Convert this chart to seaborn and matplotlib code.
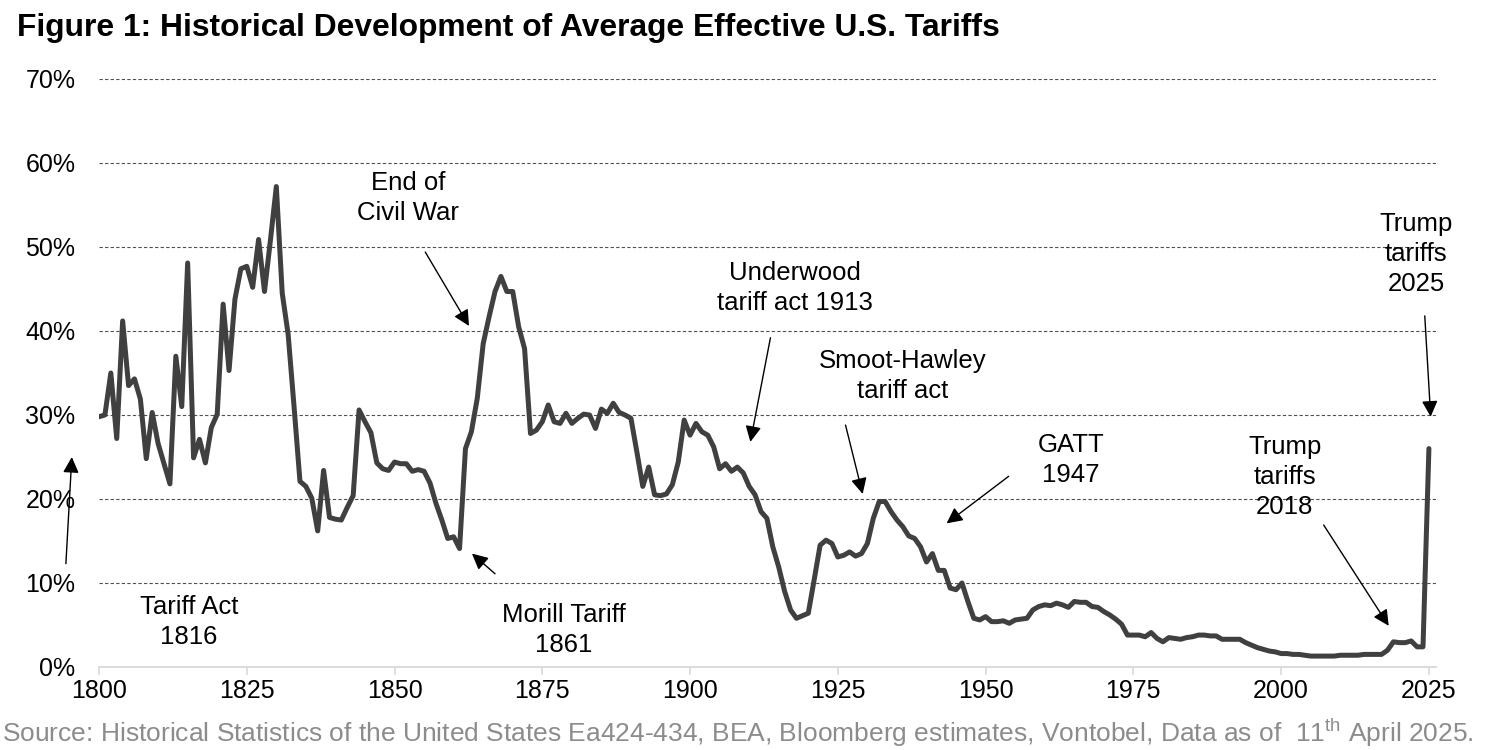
import numpy as np
import pandas as pd
import seaborn as sns
import matplotlib.pyplot as plt

# average effective US tariff rate (%), one value per year
tariff_1800s = [29.8, 30.0, 35.0, 27.2, 41.2, 33.5, 34.3, 31.9, 24.8, 30.3,
                26.6, 24.2, 21.8, 37.0, 31.0, 48.1, 24.9, 27.1, 24.3, 28.5,
                30.1, 43.2, 35.3, 43.8, 47.4, 47.7, 45.2, 50.9, 44.7, 50.8,
                57.2, 44.5, 39.6, 31.0, 22.1, 21.5, 20.1, 16.2, 23.4, 17.8,
                17.6, 17.5, 19.0, 20.4, 30.6, 29.2, 27.9, 24.3, 23.6, 23.4]
tariff_1850s = [24.4, 24.2, 24.2, 23.3, 23.5, 23.3, 21.9, 19.5, 17.5, 15.3,
                15.5, 14.1, 26.0, 28.0, 32.0, 38.5, 41.7, 44.7, 46.5, 44.7,
                44.7, 40.5, 37.9, 27.8, 28.2, 29.2, 31.2, 29.2, 29.0, 30.2,
                29.0, 29.6, 30.1, 30.0, 28.4, 30.7, 30.2, 31.4, 30.3, 30.0,
                29.6, 25.6, 21.5, 23.8, 20.5, 20.4, 20.6, 21.7, 24.4, 29.4]
tariff_1900s = [27.6, 29.0, 28.0, 27.6, 26.2, 23.6, 24.2, 23.3, 23.8, 23.1,
                21.5, 20.5, 18.5, 17.7, 14.3, 11.9, 9.0, 6.8, 5.8, 6.1,
                6.4, 10.4, 14.5, 15.1, 14.7, 13.1, 13.3, 13.7, 13.2, 13.5,
                14.7, 17.7, 19.7, 19.7, 18.5, 17.5, 16.7, 15.6, 15.3, 14.3,
                12.5, 13.5, 11.5, 11.5, 9.4, 9.2, 10.0, 7.8, 5.8, 5.6]
tariff_1950s = [6.0, 5.4, 5.4, 5.5, 5.2, 5.6, 5.7, 5.8, 6.8, 7.2,
                7.4, 7.3, 7.6, 7.4, 7.1, 7.8, 7.7, 7.7, 7.2, 7.1,
                6.6, 6.2, 5.7, 5.1, 3.8, 3.8, 3.8, 3.6, 4.1, 3.4,
                3.0, 3.5, 3.4, 3.3, 3.5, 3.6, 3.8, 3.8, 3.7, 3.7,
                3.3, 3.3, 3.3, 3.3, 2.9, 2.6, 2.3, 2.1, 1.9, 1.8]
tariff_2000s = [1.6, 1.6, 1.5, 1.5, 1.4, 1.3, 1.3, 1.3, 1.3, 1.3,
                1.4, 1.4, 1.4, 1.4, 1.5, 1.5, 1.5, 1.5, 2.0, 3.0,
                2.9, 2.9, 3.1, 2.4, 2.4, 26.0]
first_year = 1800

x_ticks = [1800, 1825, 1850, 1875, 1900, 1925, 1950, 1975, 2000, 2025]
y_ticks = [0, 10, 20, 30, 40, 50, 60, 70]

# event labels: text, text position (year, %), arrow tail, arrow head
events = [
    ("End of\nCivil War", (1852.3, 55.8), (1855.2, 49.4), (1862.6, 40.6)),
    ("Underwood\ntariff act 1913", (1917.8, 45.1), (1913.6, 39.2), (1910.2, 26.8)),
    ("Smoot-Hawley\ntariff act", (1935.9, 34.6), (1926.3, 28.8), (1929.2, 20.6)),
    ("GATT\n1947", (1964.4, 24.6), (1953.9, 22.7), (1943.4, 17.1)),
    ("Trump\ntariffs\n2018", (2000.6, 22.6), (2007.2, 16.9), (2018.2, 4.9)),
    ("Trump\ntariffs\n2025", (2022.8, 49.2), (2024.3, 41.8), (2025.3, 29.8)),
    ("Tariff Act\n1816", (1815.2, 5.4), (1794.4, 12.3), (1795.4, 25.0)),
    ("Morill Tariff\n1861", (1878.6, 4.4), (1867.0, 11.1), (1863.1, 13.5)),
]

values = tariff_1800s + tariff_1850s + tariff_1900s + tariff_1950s + tariff_2000s
df = pd.DataFrame({"year": np.arange(first_year, first_year + len(values)),
                   "tariff": values})

sns.set_theme(style="white")
plt.rcParams['font.family'] = ['Liberation Sans', 'DejaVu Sans']
plt.rcParams['mathtext.fontset'] = 'custom'
plt.rcParams['mathtext.rm'] = 'Liberation Sans'

fig = plt.figure(figsize=(15, 7.5), dpi=100)
ax = fig.add_axes([99/1500, 83/750, 1337/1500, 588/750])

for y in y_ticks[1:]:
    ax.axhline(y, color='#505050', lw=0.8, ls=(0, (3, 2)), zorder=1)

sns.lineplot(data=df, x="year", y="tariff", ax=ax, color='#404040', lw=3.6,
             zorder=3)

ax.set_xlim(1800, 2026.2)
ax.set_ylim(0, 70)
ax.set_xticks(x_ticks)
ax.set_yticks(y_ticks)
ax.set_yticklabels([f"{t}%" for t in y_ticks])
ax.set_xlabel("")
ax.set_ylabel("")
for s in ['top', 'right', 'left']:
    ax.spines[s].set_visible(False)
ax.spines['bottom'].set_color('#d9d9d9')
ax.spines['bottom'].set_linewidth(1.3)
ax.tick_params(axis='x', direction='out', length=6, width=1.2, color='#d9d9d9',
               labelsize=18, labelcolor='black', pad=3, bottom=True)
ax.tick_params(axis='y', length=0, labelsize=18, labelcolor='black', pad=17)

for label, txt, tail, head in events:
    ax.text(txt[0], txt[1], label, ha='center', va='center', fontsize=18.5,
            color='black', linespacing=1.32, clip_on=False)
    ax.annotate('', xy=head, xytext=tail, annotation_clip=False,
                arrowprops=dict(arrowstyle='-|>', color='black', lw=1,
                                mutation_scale=24, shrinkA=0, shrinkB=0))

fig.text(17/1500, 1 - 28/750,
         "Figure 1: Historical Development of Average Effective U.S. Tariffs",
         fontsize=22.9, fontweight='bold', color='black', ha='left', va='center')
fig.text(2/1500, 1 - 733/750,
         "Source: Historical Statistics of the United States Ea424-434, BEA, "
         "Bloomberg estimates, Vontobel, Data as of  11$^{\\mathrm{th}}$ April 2025.",
         fontsize=19, color='#8c8c8c', ha='left', va='center')

fig.savefig("out.png", dpi=100)
